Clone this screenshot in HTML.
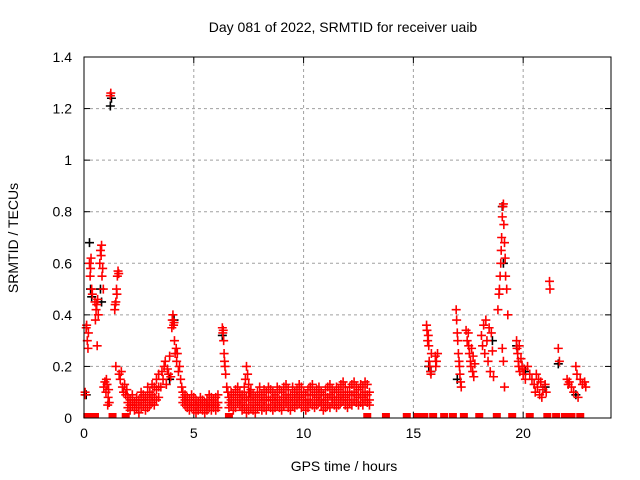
<!DOCTYPE html>
<html><head><meta charset="utf-8"><style>
html,body{margin:0;padding:0;background:#fff;}
svg{display:block;font-family:"Liberation Sans",sans-serif;}
</style></head><body>
<svg id="chart" width="640" height="480" viewBox="0 0 640 480">
<rect x="0" y="0" width="640" height="480" fill="#fff"/>
<text x="343" y="32" font-size="14" text-anchor="middle" fill="#000">Day 081 of 2022, SRMTID for receiver uaib</text>
<text transform="translate(18,238) rotate(-90)" font-size="14" text-anchor="middle" fill="#000">SRMTID / TECUs</text>
<text x="344" y="471" font-size="14" text-anchor="middle" fill="#000">GPS time / hours</text>
<g id="grid"></g>
<g id="ticks"></g>
<g id="marks"></g>
<rect x="84" y="57" width="527" height="361" fill="none" stroke="#000" stroke-width="1"/>
</svg>
<script>
const xTicks=[0,5,10,15,20];
const yTicks=[0,0.2,0.4,0.6,0.8,1,1.2,1.4];
const yTickLabels=["0","0.2","0.4","0.6","0.8","1","1.2","1.4"];
const blackTimes=[0.1,0.25,0.3,0.35,0.75,0.8,1.2,1.25,3.9,4.1,6.3,15.7,15.8,17.0,18.6,19.05,19.1,19.7,20.1,21.0,21.6,22.4];
const blackValues=[0.09,0.68,0.5,0.47,0.5,0.45,1.21,1.24,0.15,0.38,0.32,0.2,0.18,0.15,0.3,0.82,0.6,0.28,0.18,0.12,0.21,0.09];
const earlyTimes=[0.05,0.05,0.1,0.12,0.15,0.18,0.2,0.25,0.28,0.3,
0.32,0.35,0.38,0.5,0.52,0.55,0.58,0.6,0.62,0.65,
0.72,0.75,0.78,0.8,0.82,0.85,0.88,0.9,0.95,1.0,
1.02,1.05,1.08,1.1,1.12,1.15,1.2,1.22,1.4,1.42,
1.45,1.48,1.5,1.52,1.55,1.58,1.45,1.6,1.65,1.7,
1.75,1.8,1.85,1.9,1.95];
const earlyValues=[0.09,0.1,0.35,0.36,0.3,0.27,0.33,0.6,0.55,0.58,
0.62,0.5,0.48,0.45,0.38,0.42,0.44,0.28,0.46,0.4,
0.6,0.65,0.63,0.67,0.55,0.58,0.5,0.12,0.14,0.1,
0.15,0.13,0.05,0.08,0.11,0.06,1.25,1.26,0.42,0.44,
0.45,0.5,0.48,0.55,0.57,0.56,0.2,0.17,0.15,0.18,
0.12,0.1,0.13,0.09,0.11];
const humpTimes=[3.5,3.55,3.6,3.65,3.7,3.75,3.8,3.85,3.9,3.95,
4.0,4.02,4.05,4.08,4.1,4.12,4.15,4.2,4.22,4.25,
4.3,4.35,4.4,4.45,
6.3,6.32,6.34,6.36,6.38,6.4,6.42,6.45,6.5,6.55,
7.35,7.4,7.45,7.5,7.55];
const humpValues=[0.12,0.18,0.15,0.2,0.22,0.13,0.19,0.17,0.24,0.16,
0.35,0.38,0.4,0.36,0.37,0.3,0.25,0.27,0.22,0.25,
0.18,0.2,0.15,0.12,
0.35,0.33,0.34,0.3,0.25,0.22,0.2,0.17,0.12,0.1,
0.15,0.2,0.17,0.13,0.1];
const band1Times=[2.0,2.1,2.2,2.3,2.4,2.5,2.6,2.7,2.8,2.9,3.0,3.1,3.2,3.3,3.4];
const band1Low=[0.04,0.03,0.05,0.03,0.04,0.02,0.04,0.05,0.03,0.04,0.05,0.06,0.05,0.07,0.08];
const band1Mid=[0.06,0.05,0.07,0.05,0.06,0.04,0.07,0.07,0.06,0.08,0.07,0.09,0.08,0.11,0.12];
const band1High=[0.08,0.07,0.09,0.06,0.08,0.07,0.1,0.09,0.08,0.12,0.1,0.13,0.12,0.15,0.17];
const band2Times=[4.5,4.6,4.7,4.8,4.9,5.0,5.1,5.2,5.3,5.4,5.5,5.6,5.7,5.8,5.9,6.0,6.1];
const band2Low=[0.06,0.05,0.04,0.03,0.04,0.03,0.02,0.03,0.04,0.03,0.02,0.03,0.04,0.03,0.04,0.03,0.04];
const band2Mid=[0.08,0.07,0.06,0.05,0.06,0.05,0.05,0.04,0.06,0.05,0.04,0.05,0.06,0.05,0.06,0.05,0.06];
const band2High=[0.1,0.09,0.08,0.07,0.09,0.08,0.07,0.06,0.08,0.07,0.06,0.07,0.09,0.08,0.07,0.08,0.09];
const band3Times=[6.6,6.7,6.8,6.9,7.0,7.1,7.2,7.3,7.4,7.5,
7.6,7.7,7.8,7.9,8.0,8.1,8.2,8.3,8.4,8.5,
8.6,8.7,8.8,8.9,9.0,9.1,9.2,9.3,9.4,9.5,
9.6,9.7,9.8,9.9,10.0,10.1,10.2,10.3,10.4,10.5,
10.6,10.7,10.8,10.9,11.0,11.1,11.2,11.3,11.4,11.5,
11.6,11.7,11.8,11.9,12.0,12.1,12.2,12.3,12.4,12.5,
12.6,12.7,12.8,12.9,13.0];
const band3Low=[0.04,0.05,0.03,0.04,0.06,0.05,0.03,0.04,0.02,0.03,
0.04,0.03,0.02,0.04,0.05,0.03,0.04,0.03,0.05,0.04,
0.03,0.04,0.05,0.04,0.03,0.05,0.06,0.04,0.03,0.05,
0.04,0.05,0.06,0.04,0.05,0.03,0.04,0.06,0.05,0.04,
0.05,0.06,0.05,0.03,0.04,0.05,0.04,0.06,0.05,0.04,
0.05,0.06,0.07,0.05,0.04,0.06,0.05,0.07,0.06,0.05,
0.06,0.05,0.07,0.06,0.05];
const band3Mid=[0.06,0.07,0.06,0.08,0.09,0.07,0.06,0.08,0.05,0.07,
0.08,0.06,0.05,0.07,0.08,0.06,0.07,0.07,0.08,0.07,
0.07,0.06,0.08,0.07,0.06,0.08,0.09,0.07,0.06,0.08,
0.07,0.08,0.09,0.08,0.07,0.06,0.07,0.09,0.09,0.07,
0.08,0.09,0.07,0.06,0.07,0.08,0.09,0.08,0.07,0.08,
0.08,0.09,0.1,0.08,0.07,0.09,0.09,0.1,0.09,0.08,
0.09,0.08,0.1,0.09,0.07];
const band3High=[0.08,0.1,0.09,0.11,0.12,0.1,0.09,0.12,0.08,0.1,
0.11,0.09,0.08,0.1,0.12,0.09,0.11,0.1,0.12,0.11,
0.1,0.09,0.12,0.11,0.1,0.12,0.13,0.11,0.09,0.12,
0.1,0.11,0.13,0.12,0.1,0.09,0.11,0.12,0.13,0.1,
0.11,0.12,0.1,0.09,0.11,0.12,0.13,0.11,0.1,0.12,
0.11,0.13,0.14,0.12,0.1,0.12,0.13,0.14,0.12,0.11,
0.13,0.12,0.14,0.13,0.1];
const lateTimes=[15.6,15.62,15.65,15.68,15.7,15.72,15.75,15.78,15.8,15.82,
16.0,16.05,16.1,16.02,
16.95,16.97,17.0,17.02,17.05,17.08,17.1,17.12,17.15,17.18,
17.4,17.45,17.5,17.52,17.55,17.6,17.62,17.65,17.7,17.72,17.75,17.8,
18.1,18.15,18.2,18.25,18.3,18.35,18.4,18.45,18.5,18.55,18.6,18.65,
18.85,18.9,18.92,18.95,18.98,19.0,19.02,19.05,19.08,19.1,19.12,19.15,19.18,19.2,19.25,19.3,19.05,19.1,19.15,
19.7,19.72,19.75,19.78,19.8,19.82,19.85,19.9,19.95,20.0,20.05,20.1,
20.2,20.3,20.4,20.5,20.55,20.6,20.65,20.7,20.75,20.8,20.85,20.9,21.0,21.05,
21.2,21.22,21.6,21.65,
22.0,22.05,22.1,22.2,22.3,22.4,22.45,22.5,22.6,22.7,22.8,22.85];
const lateValues=[0.36,0.34,0.3,0.32,0.28,0.22,0.2,0.18,0.17,0.25,
0.24,0.22,0.25,0.2,
0.42,0.38,0.33,0.3,0.25,0.22,0.2,0.17,0.14,0.12,
0.34,0.3,0.33,0.28,0.25,0.22,0.2,0.27,0.18,0.24,0.16,0.21,
0.32,0.28,0.36,0.25,0.38,0.3,0.22,0.35,0.18,0.33,0.26,0.16,
0.42,0.48,0.5,0.55,0.6,0.65,0.7,0.78,0.82,0.83,0.75,0.68,0.62,0.55,0.5,0.4,0.27,0.22,0.12,
0.3,0.27,0.25,0.22,0.2,0.28,0.18,0.23,0.2,0.17,0.19,0.15,
0.2,0.17,0.15,0.13,0.1,0.17,0.12,0.15,0.09,0.14,0.08,0.11,0.13,0.1,
0.53,0.5,0.27,0.22,
0.15,0.13,0.14,0.12,0.1,0.2,0.17,0.08,0.15,0.13,0.14,0.12];
const zeroTimes=[0.15,0.5,1.3,1.9,6.6,12.9,13.75,14.7,15.2,15.5,15.9,16.4,16.8,17.3,18.0,18.8,19.5,20.3,21.1,21.5,21.9,22.2,22.6];
const zeroValues=[0,0,0,0,0,0,0,0,0,0,0,0,0,0,0,0,0,0,0,0,0,0,0];

const X0=84,X1=611,Y0=418,Y1=57;
function xs(t){return X0+(t/24)*(X1-X0);}
function ys(v){return Y0-(v/1.4)*(Y0-Y1);}
const NS="http://www.w3.org/2000/svg";
const grid=document.getElementById('grid'),ticks=document.getElementById('ticks'),marks=document.getElementById('marks');
function mk(tag,attrs,parent){const e=document.createElementNS(NS,tag);for(const k in attrs)e.setAttribute(k,attrs[k]);parent.appendChild(e);return e;}
xTicks.forEach(t=>{
  const x=xs(t);
  if(t>0){const g=mk('line',{x1:x,y1:Y1,x2:x,y2:Y0,stroke:'#a0a0a0','stroke-dasharray':'3,3'},grid);
  
  }
  mk('line',{x1:x,y1:Y0,x2:x,y2:Y0-6,stroke:'#000'},ticks);
  mk('line',{x1:x,y1:Y1,x2:x,y2:Y1+6,stroke:'#000'},ticks);
  const l=mk('text',{x:x,y:Y0+20,'font-size':14,'text-anchor':'middle'},ticks);l.textContent=t;
  
  
});
yTicks.forEach((v,i)=>{
  const y=ys(v);
  if(v>0&&v<1.4){const g=mk('line',{x1:X0,y1:y,x2:X1,y2:y,stroke:'#a0a0a0','stroke-dasharray':'3,3'},grid);
  
  }
  mk('line',{x1:X0,y1:y,x2:X0+6,y2:y,stroke:'#000'},ticks);
  mk('line',{x1:X1,y1:y,x2:X1-6,y2:y,stroke:'#000'},ticks);
  const l=mk('text',{x:X0-12,y:y+5,'font-size':14,'text-anchor':'end'},ticks);l.textContent=yTickLabels[i];
  
  
});
function plus(t,v,color,name){
  const x=xs(t),y=ys(v);
  const p=mk('path',{d:`M${x-4.5},${y}H${x+4.5}M${x},${y-4.5}V${y+4.5}`,stroke:color,'stroke-width':1.6,fill:'none'},marks);
  
  
}
blackTimes.forEach((t,i)=>plus(t,blackValues[i],'#000','black-point'));
earlyTimes.forEach((t,i)=>plus(t,earlyValues[i],'#f00','red-point'));
humpTimes.forEach((t,i)=>plus(t,humpValues[i],'#f00','red-point'));
[[band1Times,band1Low,band1Mid,band1High],[band2Times,band2Low,band2Mid,band2High],[band3Times,band3Low,band3Mid,band3High]].forEach(b=>{
  b[0].forEach((t,i)=>{plus(t,b[1][i],'#f00','red-point');plus(t,b[2][i],'#f00','red-point');plus(t,b[3][i],'#f00','red-point');});
});
lateTimes.forEach((t,i)=>plus(t,lateValues[i],'#f00','red-point'));
zeroTimes.forEach((t,i)=>{
  const x=xs(t),y=ys(zeroValues[i]);
  const r=mk('rect',{x:x-4,y:y-5,width:8,height:5,fill:'#f00'},marks);
  
  
});
</script>
</body></html>
